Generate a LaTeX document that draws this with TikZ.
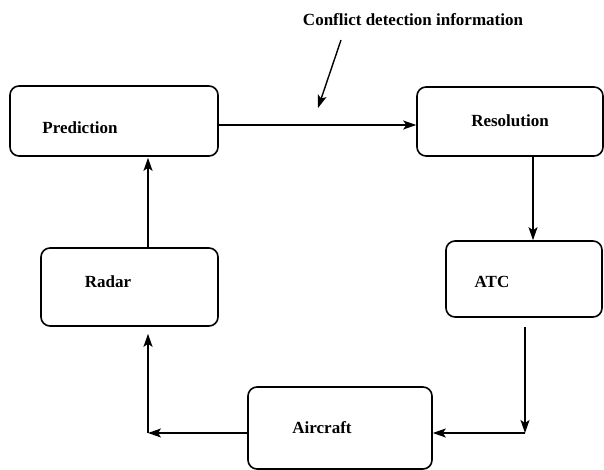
\documentclass[tikz,border=0pt]{standalone}
\usepackage{fontspec}
\setmainfont{Liberation Serif}
\usetikzlibrary{arrows.meta}
\tikzset{
	box/.style={draw,line width=1.6pt,rounded corners=9pt,inner sep=0pt},
	lbl/.style={font=\fontsize{17}{20}\selectfont\bfseries,inner sep=0pt},
	arr/.style={line width=1.4pt,-{Stealth[length=13pt,width=9pt,inset=3pt]}}
}
\begin{document}
\begin{tikzpicture}[x=1pt,y=-1pt]
	\useasboundingbox (0,0) rectangle (604,470);
	\node[box,minimum width=208pt,minimum height=70pt] (pred) at (114,121) {};
	\node[box,minimum width=186pt,minimum height=69pt] (res) at (510,121.5) {};
	\node[box,minimum width=177pt,minimum height=78pt] (radar) at (129.5,287) {};
	\node[box,minimum width=156pt,minimum height=76pt] (atc) at (524,279) {};
	\node[box,minimum width=184pt,minimum height=82pt] (air) at (340,428) {};
	\node[lbl] (predl) at (80,128) {Prediction};
	\node[lbl] (resl) at (510,121) {Resolution};
	\node[lbl] (radarl) at (108,282) {Radar};
	\node[lbl] (atcl) at (492,282) {ATC};
	\node[lbl] (airl) at (322,428) {Aircraft};
	\node[lbl] (conf) at (413,20) {Conflict detection information};
	\coordinate (ct) at (341,40);
	\coordinate (cb) at (318,108);
	\coordinate (ac) at (525,433);
	\coordinate (al) at (148,433);
	\draw[arr] (ct) -- (cb);
	\draw[arr] (pred.east |- 0,125) -- (res.west |- 0,125);
	\draw[arr] (radar.north -| 148,0) -- ([yshift=-1pt]pred.south -| 148,0);
	\draw[arr] (res.south -| 533,0) -- (atc.north -| 533,0);
	\draw[arr] ([yshift=-9pt]atc.south -| ac) -- (ac);
	\draw[arr] (ac) -- (air.east |- ac);
	\draw[arr] (air.west |- al) -- (al);
	\draw[arr] (al) -- ([yshift=-7pt]radar.south -| al);
\end{tikzpicture}
\end{document}
